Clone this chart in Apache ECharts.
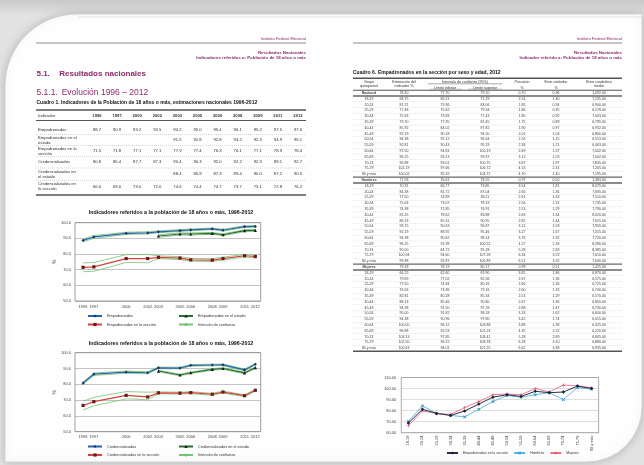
<!DOCTYPE html>
<html><head><meta charset="utf-8">
<script src="https://cdn.jsdelivr.net/npm/echarts@6/dist/echarts.min.js"></script>
<style>html,body{margin:0;padding:0;background:#fff}#c{width:644px;height:465px}</style>
</head><body><div id="c"></div>
<script>
// ================= DATA =================
const years = [1996, 1997, 2000, 2002, 2003, 2005, 2006, 2008, 2009, 2011, 2012];
const yearsEstado = [2003, 2005, 2006, 2008, 2009, 2011, 2012];
const yTicks12 = ['50.0', '60.0', '70.0', '80.0', '90.0', '100.0'];
const yTicks3 = ['60.00', '70.00', '80.00', '90.00', '100.00', '110.00'];

// Chart 1 - Empadronados
const empadronados = [88.7, 90.9, 93.2, 93.5, 94.2, 95.0, 95.4, 96.1, 95.2, 97.5, 97.6];
const empHi = [89.6, 91.8, 93.9, 94.2, 94.8, 95.6, 96.0, 96.6, 95.8, 98.0, 98.1];
const empLo = [87.8, 90.0, 92.5, 92.8, 93.6, 94.4, 94.8, 95.6, 94.6, 97.0, 97.1];
const empEstado = [91.5, 92.8, 92.8, 93.2, 92.3, 94.9, 95.1];
const empEstHi = [92.3, 93.5, 93.5, 93.8, 92.9, 95.5, 95.7];
const empEstLo = [90.7, 92.1, 92.1, 92.6, 91.7, 94.3, 94.5];
const empSeccion = [71.5, 71.8, 77.1, 77.1, 77.9, 77.4, 76.3, 76.1, 77.1, 78.9, 78.4];
const empSecHi = [74.3, 74.6, 79.6, 79.8, 78.8, 78.3, 77.2, 77.0, 78.0, 79.7, 79.2];
const empSecLo = [68.7, 69.0, 74.6, 74.4, 77.0, 76.5, 75.4, 75.2, 76.2, 78.1, 77.6];

// Chart 2 - Credencializados
const credencializados = [80.8, 86.4, 87.7, 87.3, 90.4, 90.3, 92.0, 92.2, 92.3, 89.1, 92.7];
const credHi = [81.6, 87.2, 88.4, 88.0, 90.9, 90.8, 92.5, 92.7, 92.8, 89.7, 93.2];
const credLo = [80.0, 85.6, 87.0, 86.6, 89.9, 89.8, 91.5, 91.7, 91.8, 88.5, 92.2];
const credEstado = [88.4, 85.9, 87.3, 89.4, 90.0, 87.2, 90.5];
const credEstHi = [88.9, 86.4, 87.8, 89.9, 90.5, 87.7, 91.0];
const credEstLo = [87.9, 85.4, 86.8, 88.9, 89.5, 86.7, 90.0];
const credSeccion = [66.6, 69.0, 73.0, 72.0, 74.6, 74.4, 74.7, 73.7, 75.1, 72.8, 76.2];
const credSecHi = [69.3, 71.7, 75.4, 75.0, 75.2, 75.0, 75.3, 74.3, 75.7, 73.4, 76.8];
const credSecLo = [63.7, 66.4, 70.8, 70.2, 74.0, 73.8, 74.1, 73.1, 74.5, 72.2, 75.6];

// Table 1 row labels
const t1Labels = [['Empadronados'], ['Empadronados en el', 'estado'], ['Empadronados en la', 'sección'],
  ['Credencializados'], ['Credencializados en', 'el estado'], ['Credencializados en', 'la sección']];

// Cuadro 6 (by age group, 2012)
const secNames = ['Nacional', 'Hombres', 'Mujeres'];
const ageGroups = ['18-19', '20-24', '25-29', '30-34', '35-39', '40-44', '45-49', '50-54', '55-59', '60-64', '65-69', '70-74', '75-79', '80 y más'];
const estNac = [78.40, 68.75, 81.21, 77.48, 75.63, 79.70, 85.92, 92.19, 94.38, 92.81, 97.50, 96.25, 96.88, 102.19, 100.02];
const infNac = [77.70, 66.21, 79.36, 75.62, 73.83, 77.95, 84.02, 90.18, 92.12, 90.43, 94.81, 93.13, 93.01, 97.66, 95.32];
const supNac = [79.10, 71.29, 83.06, 79.34, 77.43, 81.45, 87.82, 94.20, 96.64, 95.19, 100.19, 99.37, 100.75, 106.72, 104.72];
const preNac = [0.70, 2.54, 1.85, 1.86, 1.80, 1.75, 1.90, 2.01, 2.26, 2.38, 2.69, 3.12, 3.87, 4.53, 4.70];
const eeNac = [0.36, 1.30, 0.94, 0.95, 0.92, 0.89, 0.97, 1.03, 1.15, 1.21, 1.37, 1.59, 1.97, 2.31, 2.40];
const ecmNac = ['1,092.00', '7,135.00', '6,900.00', '6,578.00', '7,003.00', '6,795.00', '6,932.00', '6,860.00', '6,513.00', '6,463.00', '7,002.00', '7,002.00', '7,845.00', '7,205.00', '7,195.00'];
const estHom = [77.58, 70.31, 84.38, 77.50, 75.63, 74.38, 81.25, 88.13, 93.75, 92.19, 94.38, 96.25, 90.00, 100.94, 99.38];
const infHom = [76.61, 66.77, 81.72, 74.89, 73.07, 71.85, 78.62, 85.31, 90.63, 88.92, 90.62, 91.98, 84.72, 94.60, 92.87];
const supHom = [78.55, 73.85, 87.04, 80.11, 78.19, 76.91, 83.88, 90.95, 96.87, 95.46, 98.14, 100.52, 95.28, 107.28, 105.89];
const preHom = [0.97, 3.54, 2.66, 2.61, 2.56, 2.53, 2.63, 2.82, 3.12, 3.27, 3.76, 4.27, 5.28, 6.34, 6.51];
const eeHom = [0.50, 1.81, 1.36, 1.33, 1.31, 1.29, 1.34, 1.44, 1.59, 1.67, 1.92, 2.18, 2.69, 3.23, 3.32];
const ecmHom = ['1,383.00', '8,475.00', '7,835.00', '7,510.00', '7,735.00', '7,790.00', '8,020.00', '7,615.00', '7,905.00', '7,315.00', '7,720.00', '8,280.00', '8,385.00', '7,610.00', '7,640.00'];
const estMuj = [79.18, 66.25, 79.69, 77.50, 76.56, 82.81, 88.13, 94.38, 95.00, 94.38, 100.00, 96.88, 103.13, 102.50, 100.63];
const infMuj = [78.19, 62.60, 77.02, 74.84, 73.96, 80.28, 85.46, 91.50, 91.82, 90.96, 96.12, 92.53, 97.85, 96.22, 94.01];
const supMuj = [80.17, 69.90, 82.36, 80.16, 79.16, 85.34, 90.80, 97.26, 98.18, 97.80, 103.88, 101.23, 108.41, 108.78, 107.25];
const preMuj = [0.99, 3.65, 2.67, 2.66, 2.60, 2.53, 2.67, 2.88, 3.18, 3.42, 3.88, 4.35, 5.28, 6.28, 6.62];
const eeMuj = [0.51, 1.86, 1.36, 1.36, 1.33, 1.29, 1.36, 1.47, 1.62, 1.74, 1.98, 2.22, 2.69, 3.20, 3.38];
const ecmMuj = ['1,425.00', '6,870.00', '6,575.00', '6,725.00', '6,740.00', '6,570.00', '6,850.00', '6,730.00', '6,600.00', '6,415.00', '6,325.00', '6,220.00', '6,845.00', '6,880.00', '6,935.00'];

// ================= LAYOUT / STYLE =================
const FF = '"Liberation Sans", Arial, sans-serif';
const PURPLE = '#8a2c6e';
const G = [];
function T(x, y, text, o) {
  o = o || {};
  G.push({type: 'text', silent: true, z: o.z == null ? 1 : o.z,
    style: {x: x, y: y, text: text, fill: o.c || '#333',
      font: (o.w || 'normal') + ' ' + (o.s || 4) + 'px ' + FF, align: o.a || 'left', verticalAlign: 'middle'}});
}
function L(x1, y1, x2, y2, o) {
  o = o || {};
  G.push({type: 'line', silent: true, z: 1, shape: {x1: x1, y1: y1, x2: x2, y2: y2},
    style: {stroke: o.c || '#666', lineWidth: o.w || 0.6, lineDash: o.d || null}});
}

// Background & page
G.push({type: 'rect', silent: true, z: -3, shape: {x: 0, y: 0, width: 644, height: 465}, style: {fill: '#e2e2e2'}});
G.push({type: 'rect', silent: true, z: -3, shape: {x: 0, y: 0, width: 644, height: 16},
  style: {fill: {type: 'linear', x: 0, y: 0, x2: 0, y2: 1, colorStops: [{offset: 0, color: '#c8c8c8'}, {offset: 1, color: '#e4e4e4'}]}}});
G.push({type: 'rect', silent: true, z: -2, shape: {x: 5, y: 14, width: 637, height: 448, r: [72, 0, 55, 0]},
  style: {fill: '#fefefe', stroke: '#d2d2d2', lineWidth: 1, shadowBlur: 8, shadowColor: 'rgba(0,0,0,0.18)'}});
L(78, 17, 644, 17, {c: '#dedede', w: 0.8});

// Headers (both pages)
[[36, 306, 'Indicadores referidos a: Población de 18 años o más'], [353, 622, 'Indicador referido a: Población de 18 años o más']].forEach(function (p) {
  T(p[1], 39, 'Instituto Federal Electoral', {a: 'right', s: 4, c: PURPLE});
  L(p[0], 43, p[1], 43, {c: '#808080', w: 0.9});
  T(p[1], 52.5, 'Resultados Nacionales', {a: 'right', s: 4.4, w: 'bold', c: PURPLE});
  T(p[1], 57.3, p[2], {a: 'right', s: 4.4, w: 'bold', c: PURPLE});
});

// Left page headings
T(36.5, 73.3, '5.1.', {s: 8, w: 'bold', c: PURPLE});
T(59.3, 73.3, 'Resultados nacionales', {s: 8, w: 'bold', c: PURPLE});
T(36.5, 92.7, '5.1.1.', {s: 8.5, c: PURPLE});
T(61.7, 92.7, 'Evolución 1996 – 2012', {s: 8.5, c: PURPLE});
T(36.5, 102.8, 'Cuadro 1.', {s: 5, w: 'bold', c: '#111'});
T(61, 102.8, 'Indicadores de la Población de 18 años o más, estimaciones nacionales 1996-2012', {s: 5, w: 'bold', c: '#111'});

// Table 1
const t1ColX = years.map(function (y, i) { return 97 + i * 20.1; });
const t1RowY = [129.5, 140, 151, 162, 174, 186.5];
const t1Vals = [empadronados, [null, null, null, null].concat(empEstado), empSeccion,
  credencializados, [null, null, null, null].concat(credEstado), credSeccion];
L(36, 110, 306, 110, {c: '#555', w: 1.4});
T(38, 116.3, 'Indicador', {s: 4.2});
years.forEach(function (y, i) { T(t1ColX[i], 116.3, String(y), {s: 4.2, w: 'bold', a: 'center'}); });
L(36, 120.5, 306, 120.5, {c: '#555', w: 1.2});
t1RowY.forEach(function (ry, r) {
  const lab = t1Labels[r];
  if (lab.length === 1) T(38, ry, lab[0], {s: 4.2});
  else { T(38, ry - 2.4, lab[0], {s: 4.2}); T(38, ry + 2.4, lab[1], {s: 4.2}); }
  t1Vals[r].forEach(function (v, i) { if (v != null) T(t1ColX[i], ry, v.toFixed(1), {s: 4.2, a: 'center'}); });
  if (r < t1RowY.length - 1) L(36, (ry + t1RowY[r + 1]) / 2, 306, (ry + t1RowY[r + 1]) / 2, {c: '#aaa', w: 0.5, d: [1, 1]});
});
L(36, 195, 306, 195, {c: '#555', w: 1.4});

// Chart titles
T(171, 213, 'Indicadores referidos a la población de 18 años o más, 1996-2012', {s: 5.3, w: 'bold', c: '#111', a: 'center'});
T(171, 344, 'Indicadores referidos a la población de 18 años o más, 1996-2012', {s: 5.3, w: 'bold', c: '#111', a: 'center'});

// Right page: Cuadro 6
T(353, 72.7, 'Cuadro 6.', {s: 5, w: 'bold', c: '#111'});
T(378, 72.7, 'Empadronados en la sección por sexo y edad, 2012', {s: 5, w: 'bold', c: '#111'});
const c6X = [369, 404, 445, 485, 522, 556, 599];
L(353, 78.3, 622, 78.3, {c: '#555', w: 1.4});
const hs = {s: 3.6, a: 'center'};
T(c6X[0], 81.8, 'Grupo', hs); T(c6X[0], 85.5, 'quinquenal', hs);
T(c6X[1], 81.8, 'Estimación del', hs); T(c6X[1], 85.5, 'indicador %', hs);
T(465, 81.5, 'Intervalo de confianza (95%)', hs); L(428, 83.8, 502, 83.8, {c: '#555', w: 0.5});
T(c6X[2], 87.6, 'Límite inferior', hs); T(c6X[3], 87.6, 'Límite superior', hs);
L(430, 89.2, 462, 89.2, {c: '#777', w: 0.4}); L(468, 89.2, 502, 89.2, {c: '#777', w: 0.4});
T(c6X[4], 81.8, 'Precisión', hs); T(c6X[4], 87.6, '%', hs);
T(c6X[5], 81.8, 'Error estándar', hs); T(c6X[5], 87.6, '%', hs);
T(c6X[6], 81.8, 'Error cuadrático', hs); T(c6X[6], 85.5, 'medio', hs);
L(353, 90.3, 622, 90.3, {c: '#555', w: 1.1});
const c6Sections = [
  [estNac, infNac, supNac, preNac, eeNac, ecmNac],
  [estHom, infHom, supHom, preHom, eeHom, ecmHom],
  [estMuj, infMuj, supMuj, preMuj, eeMuj, ecmMuj]];
const RH = 5.8;
c6Sections.forEach(function (cols, s) {
  for (let r = 0; r < 15; r++) {
    const idx = s * 15 + r;
    const y = 93.1 + idx * RH;
    const lab = r === 0 ? secNames[s] : ageGroups[r - 1];
    T(c6X[0], y, lab, {s: 3.5, a: 'center', c: '#444', w: r === 0 ? 'bold' : 'normal'});
    cols.forEach(function (col, k) {
      const v = col[r];
      T(c6X[k + 1], y, typeof v === 'number' ? v.toFixed(2) : v, {s: 3.5, a: 'center', c: '#444'});
    });
    if (r === 0) {
      if (s > 0) L(353, y - RH / 2, 622, y - RH / 2, {c: '#666', w: 1.3});
      L(353, y + RH / 2, 622, y + RH / 2, {c: '#666', w: 1.3});
    } else if (r !== 14) {
      L(353, y + RH / 2, 622, y + RH / 2, {c: '#c4c4c4', w: 0.4, d: [1, 1]});
    }
  }
});
L(353, 93.1 + 44 * RH + RH / 2, 622, 93.1 + 44 * RH + RH / 2, {c: '#555', w: 1.4});

// ================= CHART OPTION =================
const C_BLUE = '#2a62ad', C_EST = '#2c6a35', C_SEC = '#d8413b', C_CI = '#74c476';
function pairs(xs, ys) { return xs.map(function (x, i) { return [x, ys[i]]; }); }
function mainLine(name, xi, xs, ys, color, mcolor, sym) {
  return {name: name, type: 'line', xAxisIndex: xi, yAxisIndex: xi, data: pairs(xs, ys), z: 4,
    symbol: sym, symbolSize: 3.2, showSymbol: true, lineStyle: {color: color, width: 1.2},
    itemStyle: {color: mcolor, borderWidth: 0}, animation: false, silent: true};
}
function ciLine(xi, xs, ys) {
  return {name: 'Intervalo de confianza', type: 'line', xAxisIndex: xi, yAxisIndex: xi, data: pairs(xs, ys), z: 3,
    symbol: 'none', lineStyle: {color: C_CI, width: 0.8}, itemStyle: {color: C_CI}, animation: false, silent: true};
}
function xAxisYears(gi) {
  return {type: 'value', gridIndex: gi, min: 1995.25, max: 2012.5, interval: 0.25,
    axisLine: {show: false}, axisTick: {show: false}, splitLine: {show: false},
    axisLabel: {margin: 3.5, fontSize: 4, color: '#444', fontFamily: FF, showMinLabel: true, showMaxLabel: true,
      formatter: function (v) { return years.indexOf(v) >= 0 ? String(v) : ''; }}};
}
function yAxisPct(gi) {
  return {type: 'value', gridIndex: gi, min: 50, max: 100, interval: 10,
    name: '%', nameLocation: 'middle', nameGap: 15, nameRotate: 90, nameTextStyle: {fontSize: 5, color: '#333', fontFamily: FF},
    axisLine: {show: false}, axisTick: {show: false},
    splitLine: {lineStyle: {color: '#9a9a9a', width: 0.6}},
    axisLabel: {margin: 4, fontSize: 4, color: '#444', fontFamily: FF, formatter: function (v) { return yTicks12[Math.round((v - 50) / 10)]; }}};
}
function LG(names, left, top, extra) {
  return Object.assign({data: names, left: left, top: top, orient: 'horizontal', padding: 0, itemWidth: 14, itemHeight: 4,
    itemGap: 8, selectedMode: false, textStyle: {fontSize: 3.8, color: '#333', fontFamily: FF}}, extra || {});
}
const sym3Names = {'Sección 2012': 'Empadronados en la sección', 'Hombres': 'Hombres', 'Mujeres': 'Mujeres'};

const option = {
  animation: false,
  backgroundColor: '#ffffff',
  graphic: {elements: G},
  grid: [
    {left: 75, top: 222.7, width: 185.7, height: 78.3, show: true, borderColor: '#888', borderWidth: 0.8, z: 1},
    {left: 75, top: 352.7, width: 185.7, height: 79, show: true, borderColor: '#888', borderWidth: 0.8, z: 1},
    {left: 401.3, top: 377.5, width: 197.3, height: 55.2, show: true, borderColor: '#999', borderWidth: 0.8, z: 1}
  ],
  xAxis: [xAxisYears(0), xAxisYears(1),
    {type: 'category', gridIndex: 2, data: ageGroups, boundaryGap: true,
      axisLine: {show: false}, axisTick: {show: false}, splitLine: {show: false},
      axisLabel: {rotate: 90, interval: 0, margin: 3, fontSize: 3.8, color: '#444', fontFamily: FF}}],
  yAxis: [yAxisPct(0), yAxisPct(1),
    {type: 'value', gridIndex: 2, min: 60, max: 110, interval: 10,
      axisLine: {show: false}, axisTick: {show: false},
      splitLine: {lineStyle: {color: '#c8c8c8', width: 0.6}},
      axisLabel: {margin: 5, fontSize: 4, color: '#444', fontFamily: FF, formatter: function (v) { return yTicks3[Math.round((v - 60) / 10)]; }}}],
  legend: [
    LG(['Empadronados'], 87, 314),
    LG(['Empadronados en el estado'], 178, 314),
    LG(['Empadronados en la sección'], 87, 322.5),
    LG(['Intervalo de confianza'], 178, 322.5),
    LG(['Credencializados'], 87, 444.5),
    LG(['Credencializados en el estado'], 178, 444.5),
    LG(['Credencializados en la sección'], 87, 453),
    LG(['Intervalo de confianza'], 178, 453),
    LG(['Sección 2012', 'Hombres', 'Mujeres'], 446, 451, {itemWidth: 11, itemGap: 5,
      textStyle: {fontSize: 3.5, color: '#333', fontFamily: FF},
      formatter: function (n) { return sym3Names[n]; }})
  ],
  series: [
    // chart 1
    ciLine(0, years, empHi), ciLine(0, years, empLo),
    ciLine(0, yearsEstado, empEstHi), ciLine(0, yearsEstado, empEstLo),
    ciLine(0, years, empSecHi), ciLine(0, years, empSecLo),
    mainLine('Empadronados', 0, years, empadronados, C_BLUE, '#1b3566', 'diamond'),
    mainLine('Empadronados en el estado', 0, yearsEstado, empEstado, C_EST, '#1a1a1a', 'triangle'),
    mainLine('Empadronados en la sección', 0, years, empSeccion, C_SEC, '#6e1a1a', 'rect'),
    // chart 2
    ciLine(1, years, credHi), ciLine(1, years, credLo),
    ciLine(1, yearsEstado, credEstHi), ciLine(1, yearsEstado, credEstLo),
    ciLine(1, years, credSecHi), ciLine(1, years, credSecLo),
    mainLine('Credencializados', 1, years, credencializados, C_BLUE, '#1b3566', 'diamond'),
    mainLine('Credencializados en el estado', 1, yearsEstado, credEstado, C_EST, '#1a1a1a', 'triangle'),
    mainLine('Credencializados en la sección', 1, years, credSeccion, C_SEC, '#6e1a1a', 'rect'),
    // chart 3
    {name: 'Sección 2012', type: 'line', xAxisIndex: 2, yAxisIndex: 2, data: estNac.slice(1), z: 5,
      symbol: 'diamond', symbolSize: 3.5, lineStyle: {color: '#2b2f45', width: 1}, itemStyle: {color: '#1d2030'}, silent: true},
    {name: 'Hombres', type: 'line', xAxisIndex: 2, yAxisIndex: 2, data: estHom.slice(1), z: 4,
      symbol: 'path://M0,2L2,0L5,3L8,0L10,2L7,5L10,8L8,10L5,7L2,10L0,8L3,5Z', symbolSize: 3.2,
      lineStyle: {color: '#52b6e4', width: 0.9}, itemStyle: {color: '#2f9bd0'}, silent: true},
    {name: 'Mujeres', type: 'line', xAxisIndex: 2, yAxisIndex: 2, data: estMuj.slice(1), z: 4,
      symbol: 'path://M4,0H6V4H10V6H6V10H4V6H0V4H4Z', symbolSize: 3.2,
      lineStyle: {color: '#ee6f86', width: 0.9}, itemStyle: {color: '#e04b66'}, silent: true}
  ]
};
const chart = echarts.init(document.getElementById('c'), null, {renderer: 'canvas', width: 644, height: 465});
chart.setOption(option);
</script>
</body></html>
